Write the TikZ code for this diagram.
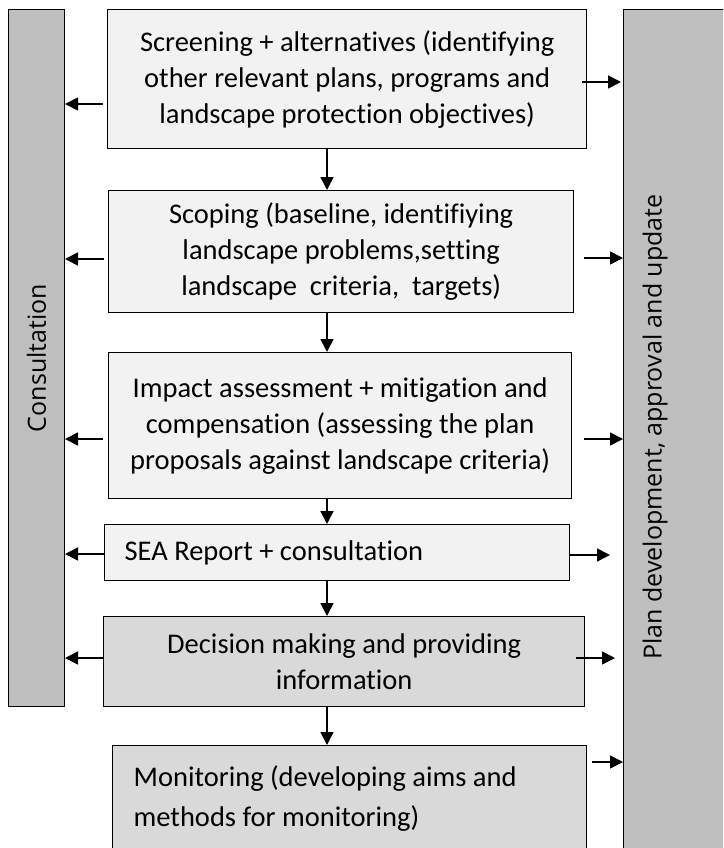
\documentclass[tikz,border=0pt]{standalone}
\usepackage{fontspec}
\setmainfont{Carlito}[Ligatures=NoCommon]
\newfontfamily\barfont{Open Sans}
\usepackage{xcolor}
\usetikzlibrary{arrows.meta}
\definecolor{boxlight}{HTML}{F2F2F2}
\definecolor{boxdark}{HTML}{D9D9D9}
\definecolor{bargray}{HTML}{BFBFBF}

\begin{document}
\begin{tikzpicture}[
    x=1pt, y=-1pt,
    block/.style={rectangle, draw, line width=1.3pt, fill=boxlight, anchor=north west, align=center, inner sep=0pt, font=\fontsize{28.5}{36}\selectfont},
    darkblock/.style={block, fill=boxdark},
    bar/.style={rectangle, draw, line width=1pt, fill=bargray, anchor=north west, inner sep=0pt},
    bartext/.style={rotate=90, font=\barfont\fontsize{25}{30}\selectfont},
    line/.style={draw, line width=1.6pt, -{Triangle[length=13pt, width=13pt]}}
]
\useasboundingbox (0,0) rectangle (723,848);
\clip (0,0) rectangle (723,848);

% side bars
\node [bar, minimum width=56pt, minimum height=697pt] (consult) at (8,9) {};
\node [bartext] at (consult.center) {Consultation};
\node [bar, minimum width=130pt, minimum height=880pt] (plandev) at (623,9) {};
\node [bartext] at (655,427) {Plan development, approval and update};

% steps
\node [block, minimum width=479pt, minimum height=139pt] (screening) at (107,9) {Screening + alternatives (identifying\\other relevant plans, programs and\\landscape protection objectives)};
\node [block, minimum width=465pt, minimum height=122pt] (scoping) at (108,190) {Scoping (baseline, identifiying\\landscape problems,setting\\landscape~ criteria,~ targets)};
\node [block, minimum width=463pt, minimum height=146pt] (impact) at (108,352) {Impact assessment + mitigation and\\compensation (assessing the plan\\proposals against landscape criteria)};
\node [block, minimum width=465pt, minimum height=56pt, align=flush left, text width=425pt, inner xsep=20pt] (seareport) at (104,524) {SEA Report + consultation};
\node [darkblock, minimum width=481pt, minimum height=90pt] (decision) at (103,616) {Decision making and providing\\information};
\node [darkblock, minimum width=474pt, minimum height=106pt, align=flush left, text width=432pt, inner xsep=21pt, font=\fontsize{28.5}{40}\selectfont] (monitoring) at (112,745) {Monitoring (developing aims and\\methods for monitoring)};

% main flow
\coordinate (spine) at (327,0);
\path [line] (screening.south -| spine) -- (scoping.north -| spine);
\path [line] (scoping.south -| spine) -- (impact.north -| spine);
\path [line] (impact.south -| spine) -- (seareport.north -| spine);
\path [line] (seareport.south -| spine) -- (decision.north -| spine);
\path [line] (decision.south -| spine) -- (monitoring.north -| spine);

% to consultation
\path [line, shorten <=4pt] (screening.west |- 0,104) -- (consult.east |- 0,104);
\path [line, shorten <=4pt] (scoping.west |- 0,259) -- (consult.east |- 0,259);
\path [line, shorten <=5pt] (impact.west |- 0,439) -- (consult.east |- 0,439);
\path [line] (seareport.west |- 0,554) -- (consult.east |- 0,554);
\path [line] (decision.west |- 0,658) -- (consult.east |- 0,658);

% to plan development
\path [line, shorten <=-5pt, shorten >=2pt] (screening.east |- 0,82) -- (plandev.west |- 0,82);
\path [line, shorten <=10pt] (scoping.east |- 0,258) -- (plandev.west |- 0,258);
\path [line, shorten <=12pt] (impact.east |- 0,439) -- (plandev.west |- 0,439);
\path [line, shorten >=13pt] (seareport.east |- 0,555) -- (plandev.west |- 0,555);
\path [line, shorten <=-9pt, shorten >=8pt] (decision.east |- 0,658) -- (plandev.west |- 0,658);
\path [line, shorten <=5pt] (monitoring.east |- 0,762) -- (plandev.west |- 0,762);
\end{tikzpicture}
\end{document}
